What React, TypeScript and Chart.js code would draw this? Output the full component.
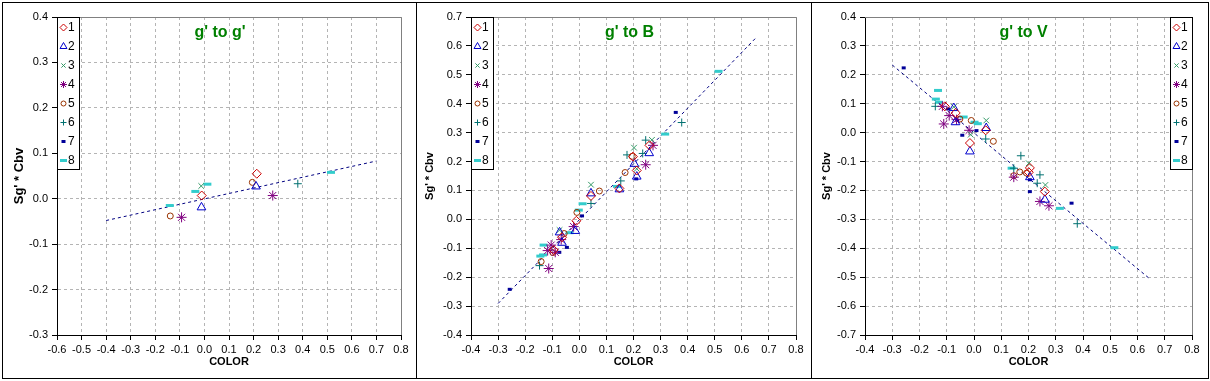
import React, { useEffect, useRef } from 'react';
import { Chart, registerables } from 'chart.js';
import { drawPoint } from 'chart.js/helpers';

Chart.register(...registerables);

const FONT = '"Liberation Sans", Arial, sans-serif';

const SERIES = ['1', '2', '3', '4', '5', '6', '7', '8'];
const COLORS = ['#CC0000', '#0000CC', '#339966', '#800080', '#993300', '#007070', '#000099', '#33CCCC'];
const STYLES = ['rectRot', 'triangle', 'crossRot', 'star', 'circle', 'cross', 'line', 'line'];
const RADII = [4.5, 5, 4, 5, 3, 4, 2, 4];
const LEGEND_RADII = [3.5, 4, 3, 3.5, 2.5, 3, 2, 3.5];
const WIDTHS = [1, 1, 1, 1, 1, 1, 3, 3];

// Panel 1: g' to g'
const G_X = [
  [-0.011, 0.213],
  [-0.012, 0.21],
  [-0.013],
  [-0.093, 0.278],
  [-0.139, 0.195],
  [0.38],
  [],
  [-0.141, -0.037, 0.012, 0.515],
];
const G_Y = [
  [0.007, 0.055],
  [-0.019, 0.027],
  [0.028],
  [-0.041, 0.007],
  [-0.038, 0.036],
  [0.033],
  [],
  [-0.015, 0.016, 0.032, 0.058],
];
const G_TREND_X = [-0.4, 0.7];
const G_TREND_Y = [-0.048, 0.083];

// Panel 2: g' to B
const B_X = [
  [0.198, 0.259, 0.212, 0.148, 0.043, -0.011, -0.064, -0.095],
  [0.203, 0.258, 0.212, 0.148, 0.043, -0.015, -0.073, -0.064],
  [0.202, 0.268, 0.212, 0.043, -0.073],
  [0.272, 0.245, -0.021, -0.067, -0.104, -0.117, -0.089, -0.113],
  [0.195, 0.169, 0.074, -0.009, -0.056, -0.098, -0.141],
  [0.245, 0.176, 0.234, 0.153, 0.043, -0.147, 0.378],
  [0.21, 0.01, -0.046, -0.074, -0.257, 0.356],
  [0.139, 0.012, -0.002, -0.036, -0.132, -0.134, -0.144, 0.317, 0.514],
];
const B_Y = [
  [0.217, 0.256, 0.169, 0.107, 0.081, -0.005, -0.062, -0.106],
  [0.192, 0.229, 0.148, 0.104, 0.09, -0.04, -0.045, -0.081],
  [0.248, 0.275, 0.175, 0.12, -0.037],
  [0.256, 0.189, -0.025, -0.07, -0.089, -0.108, -0.114, -0.17],
  [0.218, 0.162, 0.098, 0.024, -0.049, -0.115, -0.146],
  [0.274, 0.223, 0.228, 0.133, 0.055, -0.16, 0.335],
  [0.14, 0.012, -0.097, -0.114, -0.242, 0.37],
  [0.114, 0.054, 0.032, -0.046, -0.089, -0.123, -0.127, 0.295, 0.512],
];
const B_TREND_X = [-0.3, 0.649];
const B_TREND_Y = [-0.291, 0.625];

// Panel 3: g' to V
const V_X = [
  [-0.107, -0.067, 0.043, -0.015, 0.205, 0.201, 0.26],
  [-0.074, -0.068, 0.045, -0.015, 0.205, 0.26],
  [-0.074, 0.045, -0.012, 0.201, 0.262],
  [-0.116, -0.091, -0.064, -0.111, -0.018, 0.146, 0.242, 0.275],
  [-0.052, -0.01, 0.071, 0.168, 0.193, 0.146],
  [-0.142, 0.043, 0.172, 0.146, 0.242, 0.232, 0.379],
  [-0.258, -0.095, -0.062, 0.009, -0.043, 0.205, 0.205, 0.358],
  [-0.132, -0.14, -0.128, -0.038, 0.002, 0.014, 0.138, 0.315, 0.515],
];
const V_Y = [
  [0.091, 0.068, 0.008, -0.036, -0.122, -0.137, -0.204],
  [0.085, 0.036, 0.016, -0.065, -0.154, -0.232],
  [0.089, 0.042, -0.007, -0.106, -0.181],
  [0.091, 0.059, 0.045, 0.03, 0.008, -0.154, -0.238, -0.253],
  [0.047, 0.042, -0.03, -0.136, -0.14, -0.149],
  [0.091, -0.022, -0.08, -0.123, -0.146, -0.175, -0.315],
  [0.224, 0.082, 0.043, 0.007, -0.009, -0.163, -0.204, -0.244],
  [0.146, 0.116, 0.105, 0.054, 0.036, 0.031, -0.123, -0.262, -0.398],
];
const V_TREND_X = [-0.3, 0.648];
const V_TREND_Y = [0.234, -0.508];

const X_TICKS_G = [-0.6, -0.5, -0.4, -0.3, -0.2, -0.1, 0, 0.1, 0.2, 0.3, 0.4, 0.5, 0.6, 0.7, 0.8];
const X_TICKS_BV = [-0.4, -0.3, -0.2, -0.1, 0, 0.1, 0.2, 0.3, 0.4, 0.5, 0.6, 0.7, 0.8];
const Y_TICKS_G = [-0.3, -0.2, -0.1, 0, 0.1, 0.2, 0.3, 0.4];
const Y_TICKS_B = [-0.4, -0.3, -0.2, -0.1, 0, 0.1, 0.2, 0.3, 0.4, 0.5, 0.6, 0.7];
const Y_TICKS_V = [-0.7, -0.6, -0.5, -0.4, -0.3, -0.2, -0.1, 0, 0.1, 0.2, 0.3, 0.4];

const fmt = (v: any) => {
  const n = Number(v);
  return Math.abs(n) < 1e-9 ? '0.0' : n.toFixed(1);
};

type PanelProps = {
  title: string;
  xs: number[][];
  ys: number[][];
  trendX: number[];
  trendY: number[];
  xTicks: number[];
  yTicks: number[];
  width: number;
  left: number;
  yAxisWidth: number;
  padRight: number;
  yTitleSize: number;
  yTitlePad: number;
  legendSide: 'left' | 'right';
  titleDx: number;
};

function Panel(p: PanelProps) {
  const ref = useRef<HTMLCanvasElement | null>(null);
  useEffect(() => {
    if (!ref.current) return;
    const datasets: any[] = SERIES.map((s, i) => ({
      type: 'scatter',
      label: s,
      data: p.xs[i].map((x, j) => ({ x, y: p.ys[i][j] })),
      pointStyle: STYLES[i],
      pointRadius: RADII[i],
      pointBorderWidth: WIDTHS[i],
      pointBorderColor: COLORS[i],
      pointBackgroundColor: 'rgba(0,0,0,0)',
      order: 0,
    }));
    datasets.push({
      type: 'line',
      label: 'trend',
      data: p.trendX.map((x, j) => ({ x, y: p.trendY[j] })),
      borderColor: '#000080',
      borderWidth: 1,
      borderDash: [3, 3],
      pointRadius: 0,
      showLine: true,
      fill: false,
      order: 1,
    });

    const overlay = {
      id: 'overlay',
      afterDraw(chart: any) {
        const { ctx, chartArea: a } = chart;
        ctx.save();
        ctx.setLineDash([]);
        ctx.strokeStyle = '#808080';
        ctx.lineWidth = 1;
        ctx.beginPath();
        ctx.moveTo(Math.round(a.left), Math.round(a.top) + 0.5);
        ctx.lineTo(Math.round(a.right) + 0.5, Math.round(a.top) + 0.5);
        ctx.lineTo(Math.round(a.right) + 0.5, Math.round(a.bottom));
        ctx.stroke();

        ctx.fillStyle = '#008000';
        ctx.font = `bold 16px ${FONT}`;
        ctx.textAlign = 'center';
        ctx.textBaseline = 'middle';
        ctx.fillText(p.title, (a.left + a.right) / 2 + p.titleDx, a.top + 16);

        const bw = 22;
        const bh = 152;
        const bx = Math.round(p.legendSide === 'left' ? a.left : a.right - bw);
        const by = Math.round(a.top);
        ctx.fillStyle = '#ffffff';
        ctx.fillRect(bx, by, bw, bh);
        ctx.strokeStyle = '#000000';
        ctx.strokeRect(bx + 0.5, by + 0.5, bw, bh);
        SERIES.forEach((s, i) => {
          const cy = by + 10.5 + i * 19;
          ctx.save();
          ctx.strokeStyle = COLORS[i];
          ctx.fillStyle = 'rgba(0,0,0,0)';
          ctx.lineWidth = WIDTHS[i];
          drawPoint(ctx, { pointStyle: STYLES[i], radius: LEGEND_RADII[i], borderWidth: WIDTHS[i], rotation: 0 } as any, bx + 6.5, cy);
          ctx.restore();
          ctx.fillStyle = '#000000';
          ctx.font = `12px ${FONT}`;
          ctx.textAlign = 'left';
          ctx.textBaseline = 'middle';
          ctx.fillText(s, bx + 11, cy + 0.5);
        });
        ctx.restore();
      },
    };

    const gridOpts = { color: '#B4B4B4', lineWidth: 1, tickColor: '#000000', tickLength: 5, tickBorderDash: [] };
    const borderOpts = { display: true, color: '#000000', width: 1, dash: [3, 3] };
    const tickFont = { family: FONT, size: 11 };

    const chart = new Chart(ref.current, {
      type: 'scatter',
      data: { datasets },
      plugins: [overlay],
      options: {
        responsive: false,
        animation: false,
        devicePixelRatio: 1,
        layout: { padding: { left: 0, top: 17, right: p.padRight, bottom: 0 } },
        plugins: { legend: { display: false }, tooltip: { enabled: false }, title: { display: false } },
        scales: {
          x: {
            type: 'linear',
            min: p.xTicks[0],
            max: p.xTicks[p.xTicks.length - 1],
            afterBuildTicks: (s: any) => { s.ticks = p.xTicks.map((v) => ({ value: v })); },
            afterFit: (s: any) => { s.height = 46; },
            grid: gridOpts,
            border: borderOpts,
            ticks: { autoSkip: false, maxRotation: 0, minRotation: 0, padding: 3, color: '#000000', font: tickFont, callback: fmt },
            title: { display: true, text: 'COLOR', color: '#000000', font: { family: FONT, size: 11, weight: 'bold' }, padding: { top: 0, bottom: 12 } },
          },
          y: {
            type: 'linear',
            min: p.yTicks[0],
            max: p.yTicks[p.yTicks.length - 1],
            afterBuildTicks: (s: any) => { s.ticks = p.yTicks.map((v) => ({ value: v })); },
            afterFit: (s: any) => { s.width = p.yAxisWidth; },
            grid: gridOpts,
            border: borderOpts,
            ticks: { autoSkip: false, padding: 4, color: '#000000', font: tickFont, callback: fmt },
            title: { display: true, text: "Sg' * Cbv", color: '#000000', font: { family: FONT, size: p.yTitleSize, weight: 'bold' }, padding: { top: p.yTitlePad, bottom: 0 } },
          },
        },
      } as any,
    });
    return () => chart.destroy();
  }, []);

  return (
    <canvas
      ref={ref}
      width={p.width}
      height={381}
      style={{ position: 'absolute', left: p.left, top: 0, width: p.width, height: 381 }}
    />
  );
}

export default function App() {
  const frame = (left: number, width: number) => ({
    position: 'absolute' as const,
    left,
    top: 2,
    width,
    height: 377,
    border: '1px solid #000',
    boxSizing: 'border-box' as const,
    pointerEvents: 'none' as const,
  });
  return (
    <div style={{ position: 'absolute', left: 0, top: 0, width: 1210, height: 381, background: '#fff', overflow: 'hidden' }}>
      <Panel title="g' to g'" xs={G_X} ys={G_Y} trendX={G_TREND_X} trendY={G_TREND_Y} xTicks={X_TICKS_G} yTicks={Y_TICKS_G}
        width={416} left={0} yAxisWidth={57} padRight={15} yTitleSize={13} yTitlePad={12} legendSide="left" titleDx={-9} />
      <Panel title="g' to B" xs={B_X} ys={B_Y} trendX={B_TREND_X} trendY={B_TREND_Y} xTicks={X_TICKS_BV} yTicks={Y_TICKS_B}
        width={395} left={416} yAxisWidth={55} padRight={15} yTitleSize={11} yTitlePad={7} legendSide="left" titleDx={-4} />
      <Panel title="g' to V" xs={V_X} ys={V_Y} trendX={V_TREND_X} trendY={V_TREND_Y} xTicks={X_TICKS_BV} yTicks={Y_TICKS_V}
        width={399} left={811} yAxisWidth={54} padRight={18} yTitleSize={11} yTitlePad={9} legendSide="right" titleDx={-5} />
      <div style={frame(2, 415)} />
      <div style={frame(416, 396)} />
      <div style={frame(811, 398)} />
    </div>
  );
}
